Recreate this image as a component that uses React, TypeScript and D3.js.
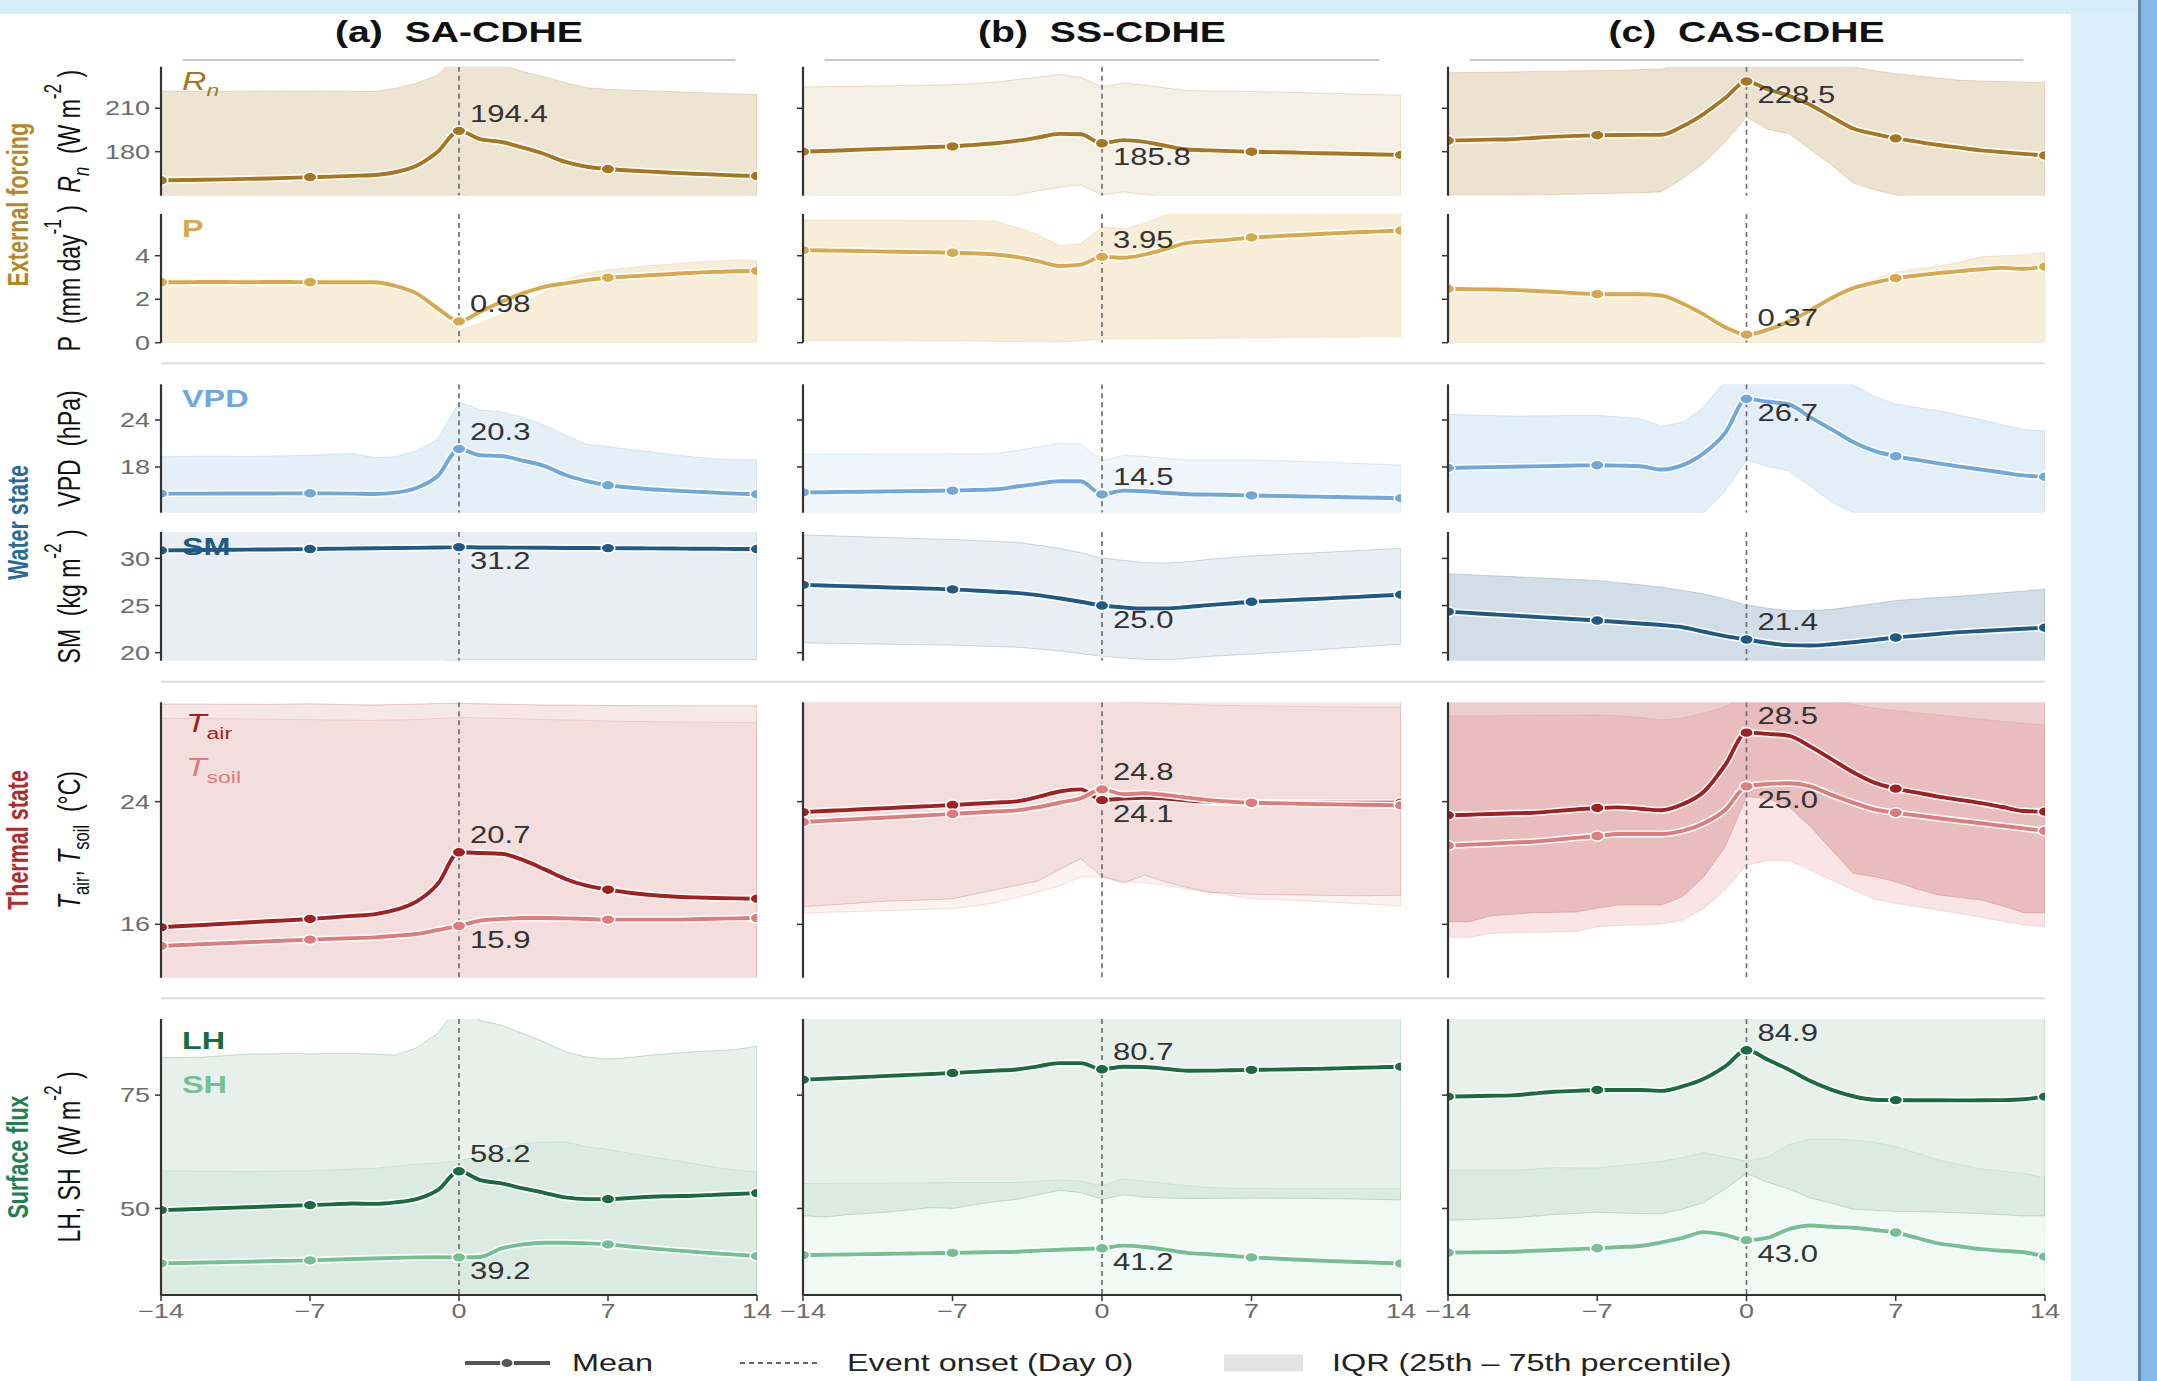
import React from 'react';
import * as d3 from 'd3';

// ---------------- data ----------------
const DAYS = [-14,-13,-12,-11,-10,-9,-8,-7,-6,-5,-4,-3,-2,-1,0,1,2,3,4,5,6,7,8,9,10,11,12,13,14];
const MARKER_DAYS = [-14, -7, 0, 7, 14];
const X_TICKS = [-14, -7, 0, 7, 14];
const COLUMN_TITLES = ['(a)  SA-CDHE', '(b)  SS-CDHE', '(c)  CAS-CDHE'];
const GROUP_LABELS = ['External forcing', 'Water state', 'Thermal state', 'Surface flux'];
const RN_TICKS = [180, 210];
const P_TICKS = [0, 2, 4];
const VPD_TICKS = [18, 24];
const SM_TICKS = [20, 25, 30];
const T_TICKS = [16, 24];
const FLUX_TICKS = [50, 75];
const LEGEND_LABELS = ['Mean', 'Event onset (Day 0)', 'IQR (25th \u2013 75th percentile)'];

// (a) SA-CDHE
const SA_RN_MEAN = [160.2,160.4,160.6,160.9,161.2,161.5,161.9,162.4,162.8,163.3,163.9,165.8,170.3,180.0,194.4,188.6,186.7,182.8,178.4,172.9,169.6,168.0,167.0,166.2,165.5,164.8,164.2,163.6,163.2];
const SA_RN_Q75 = [221.9,221.8,221.6,221.7,221.8,221.9,222.0,222.0,221.9,221.7,221.5,223.7,227.3,233.0,247.0,244.0,240.0,235.3,231.8,227.7,224.2,223.1,222.5,222.0,221.5,221.0,220.4,219.9,219.4];
const SA_RN_Q25 = [140,140,140,140,140,141,141,141,141,142,142,143,145,147,150.5,147,145,143,142,141,141,141,141,140,140,140,140,140,140];
const SA_P_MEAN = [2.78,2.78,2.79,2.79,2.78,2.79,2.79,2.78,2.78,2.78,2.78,2.61,2.27,1.58,0.98,1.43,1.88,2.27,2.57,2.73,2.88,2.99,3.05,3.10,3.16,3.22,3.26,3.29,3.30];
const SA_P_Q75 = [2.92,2.92,2.93,2.93,2.92,2.93,2.93,2.92,2.92,2.92,2.90,2.70,2.30,1.50,0.55,0.90,1.30,1.80,2.30,2.90,3.20,3.35,3.45,3.55,3.62,3.70,3.75,3.80,3.76];
const SA_P_Q25 = [0,0,0,0,0,0,0,0,0,0,0,0,0,0,0,0,0,0,0,0,0,0,0,0,0,0,0,0,0];
const SA_VPD_MEAN = [14.59,14.6,14.6,14.61,14.62,14.62,14.63,14.64,14.63,14.6,14.55,14.72,15.32,16.85,20.3,19.49,19.4,18.8,18.13,16.98,16.2,15.66,15.38,15.15,15.0,14.85,14.72,14.6,14.51];
const SA_VPD_Q75 = [19.3,19.35,19.4,19.4,19.35,19.4,19.45,19.49,19.6,19.7,19.23,19.3,20.04,21.53,26.3,25.28,25.02,24.34,23.36,22.08,20.9,20.6,20.25,19.95,19.6,19.3,19.05,18.95,18.9];
const SA_VPD_Q25 = [11.2,11.2,11.2,11.1,11.1,11.1,11.1,11.1,11.1,11.1,11.1,11.2,11.4,11.8,12.0,11.9,11.8,11.6,11.5,11.4,11.3,11.2,11.2,11.1,11.1,11.1,11.0,11.0,11.0];
const SA_SM_MEAN = [30.85,30.87,30.89,30.91,30.93,30.95,30.97,30.99,31.02,31.05,31.08,31.1,31.12,31.15,31.2,31.16,31.15,31.14,31.13,31.11,31.1,31.09,31.08,31.06,31.05,31.03,31.02,31.0,30.99];
const SA_SM_Q75 = [33.6,33.6,33.6,33.6,33.6,33.6,33.6,33.6,33.6,33.6,33.6,33.6,33.6,33.6,33.6,33.6,33.6,33.6,33.6,33.6,33.6,33.6,33.6,33.6,33.6,33.6,33.6,33.6,33.6];
const SA_SM_Q25 = [19.0,19.0,19.0,19.0,19.0,19.0,19.0,19.0,19.0,19.0,19.0,19.0,19.0,19.0,19.25,19.25,19.25,19.25,19.25,19.25,19.25,19.25,19.25,19.25,19.25,19.25,19.25,19.25,19.25];
const SA_TAIR_MEAN = [15.81,15.89,15.96,16.04,16.12,16.2,16.27,16.35,16.45,16.55,16.65,16.94,17.48,18.63,20.7,20.65,20.6,20.2,19.6,18.96,18.52,18.26,18.06,17.91,17.82,17.76,17.72,17.69,17.67];
const SA_TAIR_Q75 = [30.37,30.36,30.36,30.35,30.35,30.34,30.36,30.38,30.35,30.32,30.3,30.33,30.36,30.4,30.42,30.38,30.35,30.33,30.3,30.3,30.28,30.27,30.27,30.26,30.26,30.25,30.25,30.25,30.25];
const SA_TAIR_Q25 = [11,11,11,11,11,11,11,11,11,11,11,11,11,11,11,11,11,11,11,11,11,11,11,11,11,11,11,11,11];
const SA_TSOIL_MEAN = [14.59,14.65,14.71,14.77,14.83,14.89,14.95,15.0,15.05,15.1,15.15,15.25,15.37,15.63,15.9,16.24,16.35,16.41,16.41,16.39,16.35,16.31,16.31,16.31,16.31,16.33,16.36,16.39,16.41];
const SA_TSOIL_Q75 = [29.44,29.43,29.42,29.41,29.4,29.38,29.36,29.35,29.33,29.31,29.3,29.33,29.36,29.42,29.5,29.47,29.44,29.4,29.36,29.33,29.3,29.26,29.24,29.22,29.2,29.18,29.17,29.16,29.15];
const SA_TSOIL_Q25 = [10.5,10.5,10.5,10.5,10.5,10.5,10.5,10.5,10.5,10.5,10.5,10.5,10.5,10.5,10.5,10.5,10.5,10.5,10.5,10.5,10.5,10.5,10.5,10.5,10.5,10.5,10.5,10.5,10.5];
const SA_LH_MEAN = [49.63,49.78,49.94,50.1,50.26,50.42,50.58,50.73,50.9,51.1,51.0,51.33,52.06,54.04,58.2,56.25,55.52,54.42,53.45,52.43,52.06,52.06,52.3,52.57,52.7,52.8,53.0,53.2,53.38];
const SA_LH_Q75 = [83.3,83.3,83.4,83.7,84.05,84.1,84.2,84.1,84.2,84.2,84.05,83.82,85.43,88.6,95.0,91.5,90.4,88.6,86.76,84.55,83.4,82.94,83.3,83.82,84.2,84.55,84.8,85.08,85.81];
const SA_LH_Q25 = [26,26,26,26,26,26,26,26,26,26,26,26,26,26,26,26,26,26,26,26,26,26,26,26,26,26,26,26,26];
const SA_SH_MEAN = [37.87,37.96,38.06,38.15,38.25,38.34,38.44,38.53,38.68,38.83,38.97,39.1,39.2,39.22,39.2,39.3,41.18,42.06,42.43,42.43,42.3,42.06,41.6,41.18,40.8,40.45,40.1,39.8,39.48];
const SA_SH_Q75 = [58.3,58.3,58.2,58.2,58.1,58.2,58.3,58.3,58.5,58.7,58.83,59.3,59.78,60.0,60.51,61.54,62.87,64.34,64.6,64.7,63.6,63.02,62.2,61.4,60.7,59.93,59.1,58.5,57.94];
const SA_SH_Q25 = [22,22,22,22,22,22,22,22,22,22,22,22,22,22,22,22,22,22,22,22,22,22,22,22,22,22,22,22,22];

// (b) SS-CDHE
const SS_RN_MEAN = [180.0,180.5,181.0,181.6,182.1,182.6,183.2,183.7,184.7,185.8,187.5,189.8,192.3,192.0,185.8,188.0,186.8,184.0,181.5,180.9,180.4,180.0,179.7,179.4,179.0,178.7,178.4,178.1,177.8];
const SS_RN_Q75 = [224.7,224.9,225.1,225.3,225.5,225.8,226.0,226.2,227.1,228.0,229.8,231.5,233.3,231.5,224.7,227.5,226.0,224.0,222.2,222.0,221.8,221.6,221.3,220.9,220.5,220.2,219.8,219.4,219.1];
const SS_RN_Q25 = [145,145,145,145,145.5,146,146,146.5,147.2,148,150,153,155.3,157.1,150,152.2,150.5,148,146.5,146,145.5,145.5,145,145,145,145,145,145,145];
const SS_P_MEAN = [4.26,4.24,4.23,4.21,4.19,4.17,4.16,4.14,4.11,4.06,3.94,3.75,3.53,3.59,3.95,3.91,4.06,4.32,4.59,4.67,4.74,4.84,4.89,4.94,4.99,5.04,5.08,5.12,5.16];
const SS_P_Q75 = [5.64,5.64,5.63,5.63,5.63,5.62,5.62,5.62,5.61,5.6,5.3,4.98,4.47,4.55,5.33,5.23,5.5,5.88,6.2,6.3,6.3,6.3,6.3,6.3,6.3,6.3,6.3,6.3,6.3];
const SS_P_Q25 = [0.1,0.1,0.1,0.1,0.09,0.09,0.08,0.08,0.07,0.06,0.05,0.04,0.03,0.08,0.16,0.17,0.18,0.19,0.2,0.21,0.22,0.23,0.24,0.25,0.25,0.26,0.27,0.27,0.28];
const SS_VPD_MEAN = [14.75,14.78,14.82,14.85,14.88,14.92,14.95,14.98,15.06,15.15,15.5,15.85,16.17,16.17,14.5,14.98,14.9,14.7,14.52,14.48,14.42,14.36,14.31,14.26,14.21,14.16,14.11,14.06,14.01];
const SS_VPD_Q75 = [19.6,19.6,19.61,19.62,19.63,19.64,19.64,19.65,19.68,19.7,20.1,20.55,21.02,20.95,18.8,19.48,19.35,19.1,18.9,18.9,18.9,18.9,18.85,18.75,18.65,18.55,18.45,18.35,18.23];
const SS_VPD_Q25 = [11,11,11,11,11,11,11,11,11,11,11,11,11,11,11,11,11,11,11,11,11,11,11,11,11,11,11,11,11];
const SS_SM_MEAN = [27.19,27.12,27.06,26.99,26.92,26.86,26.79,26.72,26.6,26.47,26.34,26.1,25.77,25.4,25.0,24.8,24.68,24.7,24.85,25.05,25.22,25.4,25.5,25.6,25.7,25.81,25.92,26.04,26.15];
const SS_SM_Q75 = [32.49,32.42,32.35,32.28,32.21,32.14,32.07,32.0,31.9,31.8,31.7,31.4,31.07,30.6,30.03,29.8,29.55,29.5,29.65,29.9,30.08,30.26,30.38,30.49,30.6,30.72,30.84,30.95,31.07];
const SS_SM_Q25 = [21.04,21.0,20.97,20.93,20.9,20.86,20.83,20.8,20.73,20.65,20.58,20.39,20.19,19.9,19.62,19.45,19.29,19.25,19.4,19.6,19.73,19.86,20.0,20.15,20.3,20.45,20.6,20.75,20.9];
const SS_TAIR_MEAN = [23.32,23.39,23.45,23.52,23.58,23.65,23.71,23.78,23.86,23.94,24.02,24.31,24.66,24.8,24.1,24.2,24.25,24.2,24.08,24.0,23.96,23.93,23.93,23.93,23.93,23.93,23.93,23.93,23.93];
const SS_TAIR_Q75 = [30.6,30.6,30.6,30.6,30.6,30.6,30.6,30.6,30.6,30.6,30.6,30.6,30.6,30.6,30.6,30.6,30.6,30.6,30.6,30.6,30.6,30.6,30.6,30.6,30.6,30.6,30.6,30.6,30.6];
const SS_TAIR_Q25 = [17.14,17.24,17.33,17.43,17.52,17.56,17.6,17.67,17.96,18.25,18.54,18.83,19.56,20.29,19.13,18.69,19.21,18.75,18.4,18.1,18.03,17.96,17.94,17.92,17.9,17.88,17.86,17.88,17.9];
const SS_TSOIL_MEAN = [22.67,22.75,22.82,22.9,22.97,23.05,23.12,23.2,23.28,23.36,23.43,23.64,23.93,24.22,24.8,24.49,24.55,24.43,24.26,24.1,24.0,23.93,23.9,23.87,23.84,23.82,23.8,23.78,23.76];
const SS_TSOIL_Q75 = [30.55,30.55,30.55,30.55,30.55,30.55,30.55,30.55,30.55,30.55,30.55,30.55,30.55,30.55,30.55,30.5,30.45,30.4,30.35,30.3,30.28,30.25,30.23,30.21,30.2,30.18,30.17,30.16,30.15];
const SS_TSOIL_Q25 = [16.74,16.78,16.82,16.86,16.9,16.94,16.98,17.03,17.2,17.4,17.75,18.11,18.5,19.1,19.1,18.8,18.7,18.55,18.3,18.1,17.9,17.67,17.62,17.56,17.5,17.42,17.35,17.28,17.2];
const SS_LH_MEAN = [78.4,78.61,78.82,79.03,79.25,79.46,79.67,79.88,80.14,80.41,80.67,81.35,82.06,82.06,80.7,81.27,81.2,80.8,80.38,80.4,80.5,80.58,80.63,80.7,80.8,80.9,81.03,81.15,81.27];
const SS_LH_Q75 = [95,95,95,95,95,95,95,95,95,95,95,95,95,95,95,95,95,95,95,95,95,95,95,95,95,95,95,95,95];
const SS_LH_Q25 = [48.4,48.1,48.6,48.9,49.2,49.7,50.2,50.0,50.8,51.5,52.0,53.0,54.0,53.5,52.0,53.0,52.5,52.3,52.2,52.2,52.25,52.3,52.27,52.23,52.2,52.13,52.07,51.98,51.9];
const SS_SH_MEAN = [39.7,39.77,39.84,39.91,39.99,40.06,40.13,40.2,40.28,40.37,40.45,40.68,40.9,41.05,41.2,41.8,41.5,40.9,40.2,39.9,39.55,39.2,38.97,38.73,38.5,38.34,38.18,38.01,37.85];
const SS_SH_Q75 = [55.5,55.53,55.56,55.59,55.61,55.64,55.67,55.7,55.7,55.7,55.7,56.0,56.3,56.0,55.0,56.5,56.0,55.5,55.0,54.6,54.5,54.4,54.37,54.33,54.3,54.3,54.3,54.3,54.3];
const SS_SH_Q25 = [25,25,25,25,25,25,25,25,25,25,25,25,25,25,25,25,25,25,25,25,25,25,25,25,25,25,25,25,25];

// (c) CAS-CDHE
const CAS_RN_MEAN = [187.7,188.0,188.3,188.6,189.5,190.4,190.9,191.4,191.5,191.6,191.7,197.5,206.2,217.0,228.5,223.1,218.5,212.3,204.0,196.0,192.3,189.2,186.9,184.6,182.8,180.9,179.7,178.5,177.4];
const CAS_RN_Q75 = [234.5,234.7,234.9,235.1,235.4,235.6,235.8,236.0,236.3,236.7,237.0,242.0,244.0,246.0,248.0,247.0,245.0,243.0,240.5,238.5,236.0,233.9,232.4,230.9,229.3,228.9,228.4,228.1,227.8];
const CAS_RN_Q25 = [150.0,150.0,150.0,150.1,150.2,150.4,150.6,151.0,151.3,151.7,152.2,161.4,172.2,186.7,204.0,195.4,192.3,181.5,170.7,158.4,153.7,150.0,148.5,148,148,148,148,148,148];
const CAS_P_MEAN = [2.48,2.46,2.45,2.43,2.38,2.33,2.28,2.23,2.23,2.23,2.17,1.80,1.29,0.71,0.37,0.60,0.98,1.49,2.06,2.51,2.76,2.97,3.09,3.20,3.29,3.38,3.44,3.40,3.50];
const CAS_P_Q75 = [2.52,2.5,2.49,2.47,2.42,2.37,2.32,2.27,2.27,2.27,2.21,1.75,1.15,0.55,0.22,0.50,0.95,1.50,2.10,2.60,2.95,3.24,3.40,3.52,3.70,3.95,4.00,4.05,4.16];
const CAS_P_Q25 = [0,0,0,0,0,0,0,0,0,0,0,0,0,0,0,0,0,0,0,0,0,0,0,0,0,0,0,0,0];
const CAS_VPD_MEAN = [17.88,17.93,17.98,18.03,18.08,18.13,18.18,18.23,18.17,18.1,17.67,18.23,19.77,22.34,26.7,26.33,25.98,24.33,22.8,21.2,20.05,19.37,18.9,18.46,18.05,17.67,17.3,16.92,16.75];
const CAS_VPD_Q75 = [24.73,24.65,24.57,24.5,24.53,24.55,24.58,24.6,24.4,24.2,23.2,23.7,25.65,29.0,32.0,32.0,32.0,31.0,30.0,28.5,27.0,26.04,25.6,25.2,24.6,24.05,23.4,22.8,22.6];
const CAS_VPD_Q25 = [10,10,10,10,10,10,10,10,10,10,10,11,12.2,14.9,18.9,18.06,17.5,15.5,13.5,12.2,11,10,10,10,10,10,10,10,10];
const CAS_SM_MEAN = [24.35,24.22,24.08,23.95,23.81,23.68,23.54,23.41,23.25,23.09,22.93,22.7,22.22,21.75,21.4,21.04,20.8,20.76,20.9,21.1,21.35,21.61,21.8,22.0,22.18,22.3,22.42,22.54,22.65];
const CAS_SM_Q75 = [28.37,28.27,28.17,28.07,27.96,27.86,27.76,27.66,27.43,27.2,26.96,26.6,26.24,25.7,25.06,24.7,24.45,24.45,24.6,24.9,25.22,25.54,25.7,25.85,26.0,26.18,26.36,26.54,26.72];
const CAS_SM_Q25 = [18.5,18.5,18.5,18.5,18.5,18.5,18.5,18.5,18.5,18.5,18.5,18.5,18.5,18.5,18.5,18.5,18.5,18.5,18.5,18.5,18.5,18.5,18.5,18.5,18.5,18.5,18.5,18.5,18.5];
const CAS_TAIR_MEAN = [23.11,23.15,23.2,23.24,23.28,23.38,23.49,23.59,23.63,23.54,23.44,23.83,24.65,26.39,28.5,28.42,28.29,27.59,26.76,25.92,25.24,24.85,24.59,24.33,24.12,23.9,23.65,23.39,23.35];
const CAS_TAIR_Q75 = [31.5,31.5,31.5,31.5,31.5,31.5,31.5,31.5,31.5,31.5,31.5,31.8,32.2,32.6,33.0,33.0,32.8,32.5,32.2,31.9,31.7,31.5,31.5,31.5,31.5,31.5,31.5,31.5,31.5];
const CAS_TAIR_Q25 = [16.17,16.17,16.55,16.65,16.76,16.78,16.8,17.05,17.26,17.26,17.26,17.8,19.11,21.06,24.33,24.2,23.67,22.37,20.85,19.33,19.11,18.78,18.3,17.91,17.75,17.59,17.2,16.76,16.76];
const CAS_TSOIL_MEAN = [21.13,21.2,21.26,21.33,21.39,21.51,21.64,21.76,21.89,21.89,21.89,22.09,22.59,23.46,25.0,25.15,25.2,25.0,24.44,23.94,23.5,23.28,23.1,22.92,22.75,22.59,22.42,22.26,22.09];
const CAS_TSOIL_Q75 = [29.59,29.6,29.61,29.62,29.63,29.63,29.64,29.65,29.6,29.5,29.33,29.45,29.77,30.2,31.0,31.0,31.0,31.0,30.7,30.33,30.1,29.93,29.79,29.65,29.51,29.37,29.24,29.11,29.0];
const CAS_TSOIL_Q25 = [15.15,15.15,15.41,15.45,15.48,15.5,15.52,15.85,15.93,15.95,16.02,16.28,17.04,18.24,19.87,20.15,20.15,19.54,18.89,18.24,17.63,17.37,17.15,16.93,16.7,16.46,16.2,15.96,15.85];
const CAS_LH_MEAN = [74.67,74.76,74.86,74.95,75.35,75.75,75.95,76.15,76.15,76.15,75.95,76.92,78.6,81.35,84.9,82.82,80.58,78.1,76.15,74.76,73.99,73.9,73.88,73.86,73.85,73.86,73.9,74.1,74.67];
const CAS_LH_Q75 = [95,95,95,95,95,95,95,95,95,95,95,95,95,95,95,95,95,95,95,95,95,95,95,95,95,95,95,95,95];
const CAS_LH_Q25 = [47.38,47.55,47.72,47.9,48.28,48.66,48.9,49.17,49.0,48.86,48.8,49.85,51.33,54.29,57.73,55.76,54.29,52.3,51.13,49.85,49.6,49.35,49.28,49.2,49.03,48.86,48.6,48.37,48.37];
const CAS_SH_MEAN = [40.25,40.3,40.35,40.45,40.65,40.82,41.02,41.22,41.47,41.72,42.5,43.49,44.77,44.17,43.0,43.55,45.45,46.25,45.95,45.75,45.25,44.68,43.49,42.3,41.65,41.02,40.65,40.34,39.36];
const CAS_SH_Q75 = [58.4,58.4,58.4,58.4,58.7,59.0,58.95,58.92,59.4,59.9,60.4,61.2,62.36,61.4,60.4,61.4,64.12,65.32,65.3,65.1,64.6,63.64,62.2,60.68,59.7,58.72,58.2,57.73,56.73];
const CAS_SH_Q25 = [25,25,25,25,25,25,25,25,25,25,25,25,25,25,25,25,25,25,25,25,25,25,25,25,25,25,25,25,25];

type Stat = { mean: number[]; q25: number[]; q75: number[] };
const DATA: Record<string, Stat>[] = [
  {
    Rn: { mean: SA_RN_MEAN, q25: SA_RN_Q25, q75: SA_RN_Q75 },
    P: { mean: SA_P_MEAN, q25: SA_P_Q25, q75: SA_P_Q75 },
    VPD: { mean: SA_VPD_MEAN, q25: SA_VPD_Q25, q75: SA_VPD_Q75 },
    SM: { mean: SA_SM_MEAN, q25: SA_SM_Q25, q75: SA_SM_Q75 },
    Tair: { mean: SA_TAIR_MEAN, q25: SA_TAIR_Q25, q75: SA_TAIR_Q75 },
    Tsoil: { mean: SA_TSOIL_MEAN, q25: SA_TSOIL_Q25, q75: SA_TSOIL_Q75 },
    LH: { mean: SA_LH_MEAN, q25: SA_LH_Q25, q75: SA_LH_Q75 },
    SH: { mean: SA_SH_MEAN, q25: SA_SH_Q25, q75: SA_SH_Q75 },
  },
  {
    Rn: { mean: SS_RN_MEAN, q25: SS_RN_Q25, q75: SS_RN_Q75 },
    P: { mean: SS_P_MEAN, q25: SS_P_Q25, q75: SS_P_Q75 },
    VPD: { mean: SS_VPD_MEAN, q25: SS_VPD_Q25, q75: SS_VPD_Q75 },
    SM: { mean: SS_SM_MEAN, q25: SS_SM_Q25, q75: SS_SM_Q75 },
    Tair: { mean: SS_TAIR_MEAN, q25: SS_TAIR_Q25, q75: SS_TAIR_Q75 },
    Tsoil: { mean: SS_TSOIL_MEAN, q25: SS_TSOIL_Q25, q75: SS_TSOIL_Q75 },
    LH: { mean: SS_LH_MEAN, q25: SS_LH_Q25, q75: SS_LH_Q75 },
    SH: { mean: SS_SH_MEAN, q25: SS_SH_Q25, q75: SS_SH_Q75 },
  },
  {
    Rn: { mean: CAS_RN_MEAN, q25: CAS_RN_Q25, q75: CAS_RN_Q75 },
    P: { mean: CAS_P_MEAN, q25: CAS_P_Q25, q75: CAS_P_Q75 },
    VPD: { mean: CAS_VPD_MEAN, q25: CAS_VPD_Q25, q75: CAS_VPD_Q75 },
    SM: { mean: CAS_SM_MEAN, q25: CAS_SM_Q25, q75: CAS_SM_Q75 },
    Tair: { mean: CAS_TAIR_MEAN, q25: CAS_TAIR_Q25, q75: CAS_TAIR_Q75 },
    Tsoil: { mean: CAS_TSOIL_MEAN, q25: CAS_TSOIL_Q25, q75: CAS_TSOIL_Q75 },
    LH: { mean: CAS_LH_MEAN, q25: CAS_LH_Q25, q75: CAS_LH_Q75 },
    SH: { mean: CAS_SH_MEAN, q25: CAS_SH_Q25, q75: CAS_SH_Q75 },
  },
];

// ---------------- layout & style ----------------
const W = 2157;
const H = 1381;
const SX = 1.35; // horizontal stretch of the original figure
const FONT = '"Liberation Sans", Arial, Helvetica, sans-serif';
const COL_X: [number, number][] = [[161, 757], [803, 1401], [1448, 2045]];

type Row = { id: string; top: number; bottom: number; domain: [number, number]; ticks: number[]; series: string[] };
const ROWS: Row[] = [
  { id: 'Rn', top: 66.7, bottom: 195.7, domain: [149.6, 238.7], ticks: RN_TICKS, series: ['Rn'] },
  { id: 'P', top: 214, bottom: 342.7, domain: [0, 5.92], ticks: P_TICKS, series: ['P'] },
  { id: 'VPD', top: 384.3, bottom: 512.7, domain: [12.16, 28.56], ticks: VPD_TICKS, series: ['VPD'] },
  { id: 'SM', top: 532, bottom: 660.7, domain: [19.15, 32.8], ticks: SM_TICKS, series: ['SM'] },
  { id: 'T', top: 702.3, bottom: 977.7, domain: [12.52, 30.48], ticks: T_TICKS, series: ['Tair', 'Tsoil'] },
  { id: 'F', top: 1019, bottom: 1295, domain: [30.9, 91.8], ticks: FLUX_TICKS, series: ['LH', 'SH'] },
];

const STYLE: Record<string, { color: string; digits: number; pos: string[]; alpha: number[] }> = {
  Rn: { color: '#a8761f', digits: 1, pos: ['above', 'below', 'below'], alpha: [0.2, 0.11, 0.21] },
  P: { color: '#d9a84a', digits: 2, pos: ['above', 'above', 'above'], alpha: [0.21, 0.21, 0.21] },
  VPD: { color: '#6fa8dc', digits: 1, pos: ['above', 'above', 'below'], alpha: [0.19, 0.11, 0.2] },
  SM: { color: '#1f5a87', digits: 1, pos: ['below', 'below', 'above'], alpha: [0.1, 0.1, 0.2] },
  Tair: { color: '#a31f22', digits: 1, pos: ['above', 'below', 'above'], alpha: [0.1, 0.1, 0.22] },
  Tsoil: { color: '#e07b7b', digits: 1, pos: ['below', 'above', 'below'], alpha: [0.1, 0.1, 0.2] },
  LH: { color: '#1a6b3f', digits: 1, pos: ['above', 'above', 'above'], alpha: [0.1, 0.1, 0.1] },
  SH: { color: '#74c092', digits: 1, pos: ['below', 'below', 'below'], alpha: [0.1, 0.1, 0.1] },
};

const GROUPS = [
  { rows: [0, 1], color: '#b5862a' },
  { rows: [2, 3], color: '#2a6a9b' },
  { rows: [4], color: '#b02a2a' },
  { rows: [5], color: '#228050' },
];

type Part = [string, string];
const Y_TITLES: Part[][] = [
  [['R', 'i'], ['n', 'isub'], ['  (W m', ''], ['-2', 'sup'], [' )', '']],
  [['P  (mm day', ''], ['-1', 'sup'], [' )', '']],
  [['VPD  (hPa)', '']],
  [['SM  (kg m', ''], ['-2', 'sup'], [' )', '']],
  [['T', 'i'], ['air', 'sub'], [', ', ''], ['T', 'i'], ['soil', 'sub'], ['  (\u00b0C)', '']],
  [['LH, SH  (W m', ''], ['-2', 'sup'], [' )', '']],
];

function renderParts(parts: Part[], size: number) {
  let shift = 0;
  return parts.map(([t, k], i) => {
    let target = 0;
    let fs = size;
    if (k.includes('sub')) { target = size * 0.3; fs = size * 0.72; }
    if (k === 'sup') { target = -size * 0.6; fs = size * 0.75; }
    const dy = target - shift;
    shift = target;
    return (
      <tspan key={i} dy={dy} fontSize={fs} fontStyle={k.startsWith('i') ? 'italic' : 'normal'}>{t}</tspan>
    );
  });
}

function Txt(props: {
  x: number; y: number; rot?: boolean; size: number; weight?: string | number; fill: string;
  anchor?: string; baseline?: string; children: React.ReactNode; italic?: boolean;
}) {
  const { x, y, rot, size, weight, fill, anchor, baseline, children, italic } = props;
  return (
    <g transform={`translate(${x},${y}) scale(${SX},1)${rot ? ' rotate(-90)' : ''}`}>
      <text
        x={0}
        y={0}
        fontSize={size}
        fontWeight={weight ?? 'normal'}
        fontStyle={italic ? 'italic' : 'normal'}
        fill={fill}
        textAnchor={anchor ?? 'start'}
        dominantBaseline={baseline ?? 'auto'}
        fontFamily={FONT}
        style={{ whiteSpace: 'pre' }}
      >
        {children}
      </text>
    </g>
  );
}

export default function App() {
  const xs = COL_X.map(([a, b]) => d3.scaleLinear().domain([-14, 14]).range([a, b]));
  const ys = ROWS.map((r) => d3.scaleLinear().domain(r.domain).range([r.bottom, r.top]));

  const panels: React.ReactNode[] = [];
  const clips: React.ReactNode[] = [];

  ROWS.forEach((row, ri) => {
    const y = ys[ri];
    COL_X.forEach(([x0, x1], ci) => {
      const x = xs[ci];
      const clipId = `clip-${ri}-${ci}`;
      clips.push(
        <clipPath id={clipId} key={clipId}>
          <rect x={x0} y={row.top} width={x1 - x0} height={row.bottom - row.top} />
        </clipPath>
      );
      const line = d3
        .line<number>()
        .x((_, i) => x(DAYS[i]))
        .y((v) => y(v))
        .curve(d3.curveMonotoneX);

      const ribbons = row.series.map((s) => {
        const st = STYLE[s];
        const stat = DATA[ci][s];
        const area = d3
          .area<number>()
          .x((_, i) => x(DAYS[i]))
          .y0((_, i) => y(stat.q25[i]))
          .y1((v) => y(v));
        const d = area(stat.q75) || '';
        return (
          <path key={`rib-${s}`} d={d} fill={st.color} fillOpacity={st.alpha[ci]}
            stroke={st.color} strokeOpacity={0.22} strokeWidth={1} />
        );
      });

      const lines = row.series.map((s) => {
        const st = STYLE[s];
        const d = line(DATA[ci][s].mean) || '';
        return (
          <g key={`ln-${s}`}>
            <path d={d} fill="none" stroke="#ffffff" strokeWidth={7} strokeLinejoin="round" strokeLinecap="round" />
            <path d={d} fill="none" stroke={st.color} strokeWidth={3.9} strokeLinejoin="round" strokeLinecap="round" />
          </g>
        );
      });

      const points = row.series.map((s) => {
        const st = STYLE[s];
        return MARKER_DAYS.map((dd) => {
          const i = DAYS.indexOf(dd);
          return (
            <ellipse key={`pt-${s}-${dd}`} cx={x(dd)} cy={y(DATA[ci][s].mean[i])} rx={6.8} ry={5}
              fill={st.color} stroke="#ffffff" strokeWidth={1.6} />
          );
        });
      });

      const labels = row.series.map((s) => {
        const st = STYLE[s];
        const v = DATA[ci][s].mean[DAYS.indexOf(0)];
        const off = st.pos[ci] === 'above' ? -17 : 14;
        return (
          <Txt key={`lb-${s}`} x={x(0) + 11} y={y(v) + off} size={23} fill="#333333" baseline="central">
            {v.toFixed(st.digits)}
          </Txt>
        );
      });

      panels.push(
        <g key={`p-${ri}-${ci}`}>
          <g clipPath={`url(#${clipId})`}>
            {ribbons}
            <line x1={x(0)} x2={x(0)} y1={row.top} y2={row.bottom} stroke="#707070" strokeWidth={1.7} strokeDasharray="5 4" />
            {lines}
            {points}
          </g>
          {/* y axis */}
          <line x1={x0} x2={x0} y1={row.top} y2={row.bottom} stroke="#333333" strokeWidth={2.2} />
          {row.ticks.map((t) => (
            <line key={`tk-${t}`} x1={x0 - 6} x2={x0} y1={y(t)} y2={y(t)} stroke="#333333" strokeWidth={1.5} />
          ))}
          {ci === 0 &&
            row.ticks.map((t) => (
              <Txt key={`tl-${t}`} x={x0 - 11} y={y(t)} size={20} fill="#6b6b6b" anchor="end" baseline="central">
                {String(t)}
              </Txt>
            ))}
          {labels}
          {ri === ROWS.length - 1 && (
            <g>
              <line x1={x0} x2={x1} y1={row.bottom} y2={row.bottom} stroke="#333333" strokeWidth={1.8} />
              {X_TICKS.map((t) => (
                <g key={`xt-${t}`}>
                  <line x1={x(t)} x2={x(t)} y1={row.bottom} y2={row.bottom + 6} stroke="#333333" strokeWidth={1.5} />
                  <Txt x={x(t)} y={row.bottom + 16} size={20} fill="#6b6b6b" anchor="middle" baseline="central">
                    {t < 0 ? `\u2212${Math.abs(t)}` : String(t)}
                  </Txt>
                </g>
              ))}
            </g>
          )}
        </g>
      );
    });
  });

  // inside-panel series labels (first column)
  const inX = 182;
  const insideLabels = (
    <g>
      <Txt x={inX} y={90} size={25} fill={STYLE.Rn.color} italic>
        <tspan>R</tspan>
        <tspan dy={6} fontSize={17}>n</tspan>
      </Txt>
      <Txt x={inX} y={237} size={24} weight="bold" fill={STYLE.P.color}>P</Txt>
      <Txt x={inX} y={407} size={24} weight="bold" fill={STYLE.VPD.color}>VPD</Txt>
      <Txt x={inX} y={555} size={24} weight="bold" fill={STYLE.SM.color}>SM</Txt>
      <Txt x={186} y={732} size={25} fill={STYLE.Tair.color}>
        <tspan fontStyle="italic">T</tspan>
        <tspan dy={7} fontSize={17}>air</tspan>
      </Txt>
      <Txt x={186} y={776} size={25} fill={STYLE.Tsoil.color}>
        <tspan fontStyle="italic">T</tspan>
        <tspan dy={7} fontSize={17}>soil</tspan>
      </Txt>
      <Txt x={inX} y={1049} size={24} weight="bold" fill={STYLE.LH.color}>LH</Txt>
      <Txt x={inX} y={1093} size={24} weight="bold" fill={STYLE.SH.color}>SH</Txt>
    </g>
  );

  const legendY = 1363;
  const legend = (
    <g>
      <line x1={465} x2={550} y1={legendY} y2={legendY} stroke="#555555" strokeWidth={4} />
      <ellipse cx={507} cy={legendY} rx={6.3} ry={4.7} fill="#555555" stroke="#ffffff" strokeWidth={1.6} />
      <Txt x={572} y={legendY} size={24} fill="#222222" baseline="central">{LEGEND_LABELS[0]}</Txt>
      <line x1={740} x2={821} y1={legendY} y2={legendY} stroke="#666666" strokeWidth={1.8} strokeDasharray="5 4" />
      <Txt x={847} y={legendY} size={24} fill="#222222" baseline="central">{LEGEND_LABELS[1]}</Txt>
      <rect x={1224} y={legendY - 8.5} width={79} height={17} fill="#e3e3e3" />
      <Txt x={1332} y={legendY} size={24} fill="#222222" baseline="central">{LEGEND_LABELS[2]}</Txt>
    </g>
  );

  return (
    <svg width={W} height={H} viewBox={`0 0 ${W} ${H}`} style={{ position: 'absolute', left: 0, top: 0, display: 'block' }}>
      <defs>{clips}</defs>
      <rect x={0} y={0} width={W} height={H} fill="#ffffff" />
      <rect x={2071} y={0} width={W - 2071} height={H} fill="#d9eff9" />
      <rect x={0} y={0} width={W} height={14} fill="#d6eef9" />
      <rect x={2138} y={0} width={W - 2138} height={H} fill="#84b9e5" />
      <rect x={2138} y={0} width={3} height={H} fill="#6488ad" />

      {/* column titles */}
      {COLUMN_TITLES.map((t, ci) => {
        const [x0, x1] = COL_X[ci];
        return (
          <g key={`title-${ci}`}>
            <Txt x={(x0 + x1) / 2} y={42} size={29} weight="bold" fill="#111111" anchor="middle">{t}</Txt>
            <line x1={x0 + 21.5} x2={x1 - 21.5} y1={60} y2={60} stroke="#c8c8c8" strokeWidth={1.8} />
          </g>
        );
      })}

      {/* group separators */}
      {[363.3, 681.7, 998.3].map((yy) => (
        <line key={`sep-${yy}`} x1={COL_X[0][0]} x2={COL_X[2][1]} y1={yy} y2={yy} stroke="#dcdcdc" strokeWidth={2} />
      ))}

      {panels}
      {insideLabels}

      {/* y axis titles */}
      {ROWS.map((row, ri) => (
        <Txt key={`yt-${ri}`} x={80} y={(row.top + row.bottom) / 2} rot size={23} fill="#111111" anchor="middle">
          {renderParts(Y_TITLES[ri], 23)}
        </Txt>
      ))}

      {/* group labels */}
      {GROUPS.map((g, gi) => {
        const top = ROWS[g.rows[0]].top;
        const bottom = ROWS[g.rows[g.rows.length - 1]].bottom;
        return (
          <Txt key={`grp-${gi}`} x={28} y={(top + bottom) / 2} rot size={21.5} weight="bold" fill={g.color} anchor="middle">
            {GROUP_LABELS[gi]}
          </Txt>
        );
      })}

      {legend}
    </svg>
  );
}
